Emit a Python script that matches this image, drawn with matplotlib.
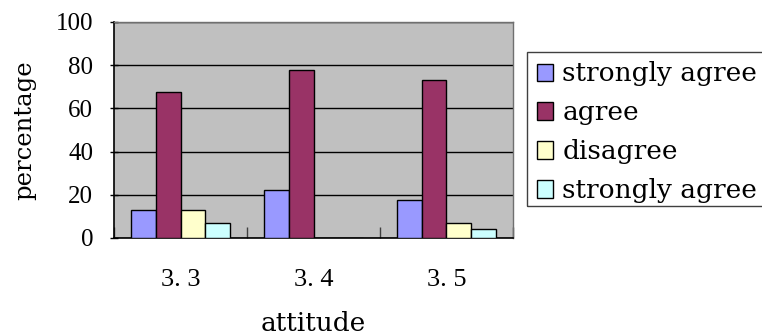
import matplotlib
matplotlib.use("Agg")
import matplotlib.pyplot as plt
from matplotlib.patches import Rectangle
import numpy as np

categories = ["3.3", "3.4", "3.5"]
series_names = ["strongly agree", "agree", "disagree", "strongly agree"]
strongly_agree = [13, 22, 17.5]
agree = [67.5, 78, 73]
disagree = [13, 0, 7]
strongly_disagree = [7, 0, 4]
y_ticks = [0, 20, 40, 60, 80, 100]

series_values = [strongly_agree, agree, disagree, strongly_disagree]
colors = ["#9999FF", "#993366", "#FFFFCC", "#CCFFFF"]

text_font = "DejaVu Serif"
num_font = "Liberation Serif"

W, H = 762, 335
fig = plt.figure(figsize=(W / 100, H / 100), dpi=100)
ax = fig.add_axes([114 / W, 1 - 238 / H, (513 - 114) / W, (238 - 22) / H])
ax.set_facecolor("#C0C0C0")

x = np.arange(len(categories))
w = 0.185
for i, (vals, col, name) in enumerate(zip(series_values, colors, series_names)):
    ax.bar(x + (i - 1.5) * w, vals, width=w, color=col, edgecolor="black",
           linewidth=1.0, label=name, zorder=3)

ax.set_xlim(-0.5, len(categories) - 0.5)
ax.set_ylim(0, 100)
ax.set_yticks(y_ticks)
ax.set_yticklabels([str(v) for v in y_ticks], fontfamily=num_font, fontsize=18)
ax.yaxis.grid(True, color="black", linewidth=1.0, zorder=1)
ax.set_axisbelow(True)
ax.tick_params(axis="y", direction="inout", length=6, width=1, pad=12)

ax.set_xticks(x)
ax.set_xticklabels([c.replace(".", ". ") for c in categories],
                   fontfamily=num_font, fontsize=19)
ax.tick_params(axis="x", which="major", length=0, pad=22)
ax.set_xticks(np.arange(-0.5, len(categories), 1.0), minor=True)
ax.tick_params(axis="x", which="minor", direction="in", length=8, width=1, color="#404040")

for s in ["left", "bottom"]:
    ax.spines[s].set_color("black")
    ax.spines[s].set_linewidth(1.2)
for s in ["top", "right"]:
    ax.spines[s].set_color("#707070")
    ax.spines[s].set_linewidth(1.0)

ax.set_xlabel("attitude", fontfamily=text_font, fontsize=19, labelpad=15)
ax.set_ylabel("percentage", fontfamily=text_font, fontsize=17.5, labelpad=14)

# legend entries without frame; border drawn as a separate box
leg = fig.legend(loc="upper left", bbox_to_anchor=(536.5 / W, 1 - 61.5 / H),
                 bbox_transform=fig.transFigure, frameon=False,
                 prop={"family": text_font, "size": 19}, handlelength=0.64,
                 handleheight=0.64, handletextpad=0.34, labelspacing=0.53,
                 borderpad=0, borderaxespad=0)
fig.patches.append(Rectangle((527 / W, 1 - 206 / H), (775 - 527) / W, (206 - 52) / H,
                             transform=fig.transFigure, fill=False,
                             edgecolor="#404040", linewidth=1.0))

fig.savefig("out.png", dpi=100)
